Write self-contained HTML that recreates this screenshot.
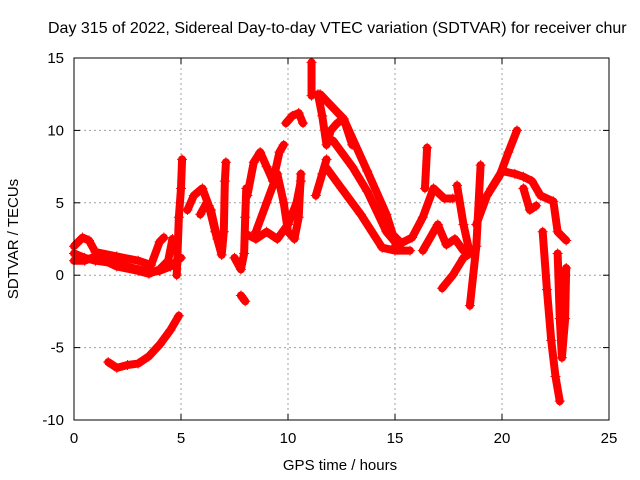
<!DOCTYPE html>
<html><head><meta charset="utf-8"><style>
body{margin:0;background:#fff;}
svg{display:block;font-family:"Liberation Sans",sans-serif;}
</style></head><body>
<svg id="chart" width="640" height="480" viewBox="0 0 640 480">
<text x="48" y="33" font-size="16" fill="#000">Day 315 of 2022, Sidereal Day-to-day VTEC variation (SDTVAR) for receiver chur</text>
<g id="grid"></g>
<g id="series"></g>
<rect x="74" y="58" width="535" height="362" fill="none" stroke="#000" stroke-width="1"/>
<g id="axes"></g>
<text x="340" y="470" font-size="15" text-anchor="middle">GPS time / hours</text>
<text transform="translate(18,239) rotate(-90)" font-size="15" text-anchor="middle">SDTVAR / TECUs</text>
</svg>
<script>
const xTicks=[0,5,10,15,20,25];
const yTicks=[-10,-5,0,5,10,15];
const trace1=[[0,1.5],[0.5,1.2],[1,1],[2,0.8],[3,0.4],[3.6,0.2],[4,0.3],[4.5,0.6],[5,1.2]];
const trace2=[[0,2],[0.4,2.6],[0.7,2.4],[1,1.6],[2,1.3],[3,1],[3.6,0.7],[4,2.3],[4.2,2.6]];
const trace3=[[0,1],[0.5,1],[1,1.3],[2,0.6],[3,0.3],[3.5,0.1],[4,0.4],[4.4,1],[4.6,2.5]];
const trace4=[[1.6,-6],[2,-6.4],[2.5,-6.2],[3,-6.1],[3.5,-5.6],[4,-4.8],[4.5,-3.8],[4.9,-2.8]];
const trace5=[[4.8,0],[4.9,4],[5,6],[5.05,8]];
const trace6=[[5.3,4.5],[5.6,5.5],[6,6],[6.3,4.8],[6.6,3],[6.9,1.4],[7,3],[7.05,6.5],[7.1,7.8]];
const trace7=[[5.9,4.2],[6.2,5],[6.4,4.5],[6.7,2.5],[6.9,2]];
const trace8=[[7.5,1.2],[7.8,0.4],[7.95,1.5],[8,4],[8.05,6]];
const trace9=[[7.8,-1.4],[8,-1.8]];
const trace10=[[8.1,5.5],[8.4,7.8],[8.7,8.5],[9,7.5],[9.3,6.5],[9.6,8.5],[9.8,9]];
const trace11=[[8.1,2.8],[8.5,2.5],[9,3],[9.5,2.5],[10,3.5],[10.4,5],[10.6,6.5]];
const trace12=[[8.5,3],[9,5],[9.5,7],[9.8,5],[10,3],[10.3,2.5],[10.5,4],[10.6,7]];
const trace13=[[9.9,10.5],[10.2,11],[10.5,11.2],[10.7,10.5]];
const trace14=[[11.1,14.7],[11.1,12.4]];
const trace15=[[11.4,12.5],[11.6,11],[11.8,9],[12,10],[12.3,10.5],[12.6,10.8],[13,9]];
const trace16=[[11.5,12.5],[12.6,10.8],[13.7,7.2],[14.6,4.2],[14.9,2.8],[15.3,2.2]];
const trace17=[[12.1,9.3],[13,7.5],[13.7,5.8],[14.6,3],[15,2.3]];
const trace18=[[11.8,7.4],[12.5,6],[13.4,4.2],[14.4,1.9],[15,1.7],[15.7,1.7]];
const trace19=[[11.3,5.5],[11.6,7],[11.8,8]];
const trace20=[[15,2],[15.8,2.6],[16.3,4],[16.8,6],[17.3,5.3],[17.7,5.3]];
const trace21=[[16.4,6],[16.5,8.8]];
const trace22=[[16.3,1.7],[17,3.5],[17.4,2.1],[17.8,2.5],[18.2,1.7]];
const trace23=[[17.2,-0.9],[17.7,0],[18.2,1.2],[18.5,1.5]];
const trace24=[[17.9,6.2],[18.2,3.5],[18.5,1.5]];
const trace25=[[18.5,-2.1],[18.8,2],[19,7.6]];
const trace26=[[18.8,3.5],[19.3,5.5],[19.9,6.9],[20.3,8.5],[20.7,10]];
const trace27=[[19.5,6],[20,7.2],[20.6,7],[21,6.8],[21.4,6.5],[21.8,5.5],[22.4,5.1],[22.6,3],[23,2.4]];
const trace28=[[21.9,3],[22.1,-1],[22.3,-4.5],[22.5,-7],[22.7,-8.7]];
const trace29=[[22.6,1.5],[22.7,-3],[22.8,-5.7],[22.95,-3],[23,0.5]];
const trace30=[[21,6],[21.3,4.5],[21.6,4.8]];
const traces=[trace1,trace2,trace3,trace4,trace5,trace6,trace7,trace8,trace9,trace10,trace11,trace12,trace13,trace14,trace15,trace16,trace17,trace18,trace19,trace20,trace21,trace22,trace23,trace24,trace25,trace26,trace27,trace28,trace29,trace30];

const X0=74,X1=609,Y0=420,Y1=58;
function sx(v){return X0+(v-0)/(25-0)*(X1-X0);}
function sy(v){return Y0-(v+10)/(15+10)*(Y0-Y1);}
const NS="http://www.w3.org/2000/svg";
const grid=document.getElementById('grid'),axes=document.getElementById('axes'),series=document.getElementById('series');
function mk(tag,attrs,parent){const e=document.createElementNS(NS,tag);for(const k in attrs)e.setAttribute(k,attrs[k]);parent.appendChild(e);return e;}
xTicks.forEach(t=>{
  const x=sx(t);
  if(t>0&&t<25){const g=mk('line',{x1:x,x2:x,y1:Y1,y2:Y0,stroke:'#a0a0a0','stroke-dasharray':'2,3'},grid);
  
  }
  mk('line',{x1:x,x2:x,y1:Y0,y2:Y0-6,stroke:'#000'},axes);
  mk('line',{x1:x,x2:x,y1:Y1,y2:Y1+6,stroke:'#000'},axes);
  const l=mk('text',{x:x,y:Y0+23,'font-size':15,'text-anchor':'middle'},axes);l.textContent=t;
  
  
});
yTicks.forEach(t=>{
  const y=sy(t);
  if(t>-10&&t<15){const g=mk('line',{x1:X0,x2:X1,y1:y,y2:y,stroke:'#a0a0a0','stroke-dasharray':'2,3'},grid);
  
  }
  mk('line',{x1:X0,x2:X0+6,y1:y,y2:y,stroke:'#000'},axes);
  mk('line',{x1:X1,x2:X1-6,y1:y,y2:y,stroke:'#000'},axes);
  const l=mk('text',{x:X0-10,y:y+5,'font-size':15,'text-anchor':'end'},axes);l.textContent=t;
  
  
});
traces.forEach((tr,i)=>{
  const g=mk('g',{},series);
  
  
  mk('polyline',{points:tr.map(p=>sx(p[0])+','+sy(p[1])).join(' '),fill:'none',stroke:'#ff0000','stroke-width':8,'stroke-linejoin':'round','stroke-linecap':'round'},g);
  tr.forEach(p=>{
    const x=sx(p[0]),y=sy(p[1]);
    mk('path',{d:`M${x-5},${y}H${x+5}M${x},${y-5}V${y+5}`,stroke:'#ff0000','stroke-width':1},g);
  });
});
</script>
</body></html>
